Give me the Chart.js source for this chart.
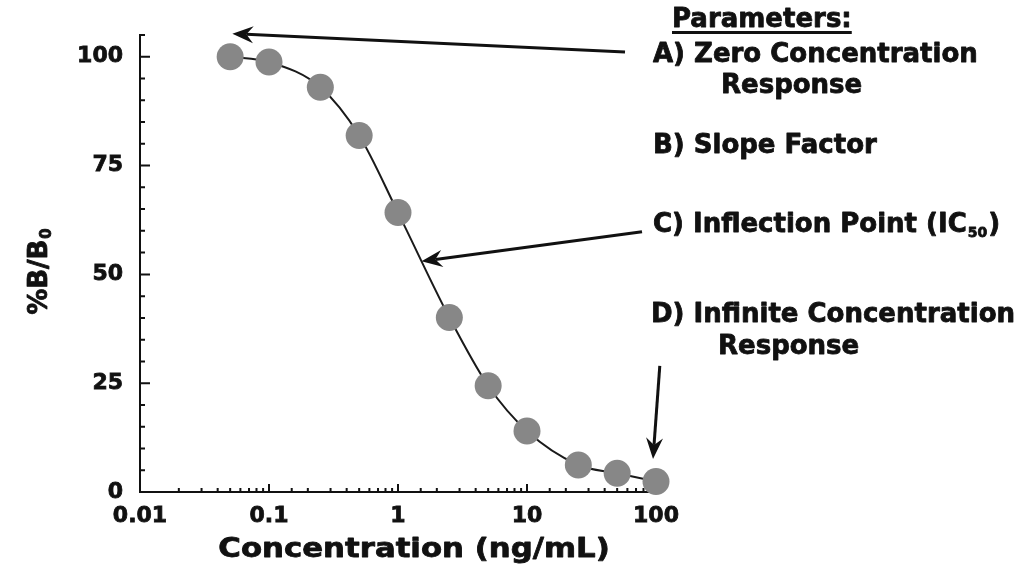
<!DOCTYPE html>
<html>
<head>
<meta charset="utf-8">
<script src="https://cdn.jsdelivr.net/npm/chart.js@4"></script>
<style>
  html, body { margin: 0; padding: 0; background: #fff; }
  #wrap { width: 1023px; height: 576px; position: relative; }
</style>
</head>
<body>
<div id="wrap"><canvas id="curveChart"></canvas></div>
<script>
// 标准曲线数据：浓度 (ng/mL) 与 %B/B0
const concentrations = [0.05, 0.1, 0.25, 0.5, 1, 2.5, 5, 10, 25, 50, 100];
const responses = [100, 98.8, 93, 81.9, 64.2, 40.1, 24.4, 14, 6.2, 4.3, 2.4];

// 刻度标签
const xTickLabels = ["0.01", "0.1", "1", "10", "100"];
const yTickLabels = [0, 25, 50, 75, 100];

const xTitle = "Concentration (ng/mL)";
const yTitle = "%B/B";
const yTitleSub = "0";

const paramHeader = "Parameters:";
const paramTexts = [
  "A) Zero Concentration",
  "Response",
  "B) Slope Factor",
  "C) Inflection Point (IC",
  "D) Infinite Concentration",
  "Response",
];
const ic50Sub = "50";

// 注释：文字位置 (像素) 和箭头 (数据坐标)
const paramLayout = [
  [653, 62], [721, 93], [653, 153], [653, 232], [651, 322], [718, 354],
];
const arrows = [
  { from: [57.5, 101.1], to: [0.052, 105.3] },
  { from: [77.9, 59.8], to: [1.52, 53.0] },
  { from: [107, 29.0], to: [94.8, 7.6] },
];

const FONT = "'DejaVu Sans', 'Liberation Sans', sans-serif";
const INK = "#111";

function isDecade(v) {
  const lg = Math.log10(v);
  return Math.abs(lg - Math.round(lg)) < 1e-9;
}

// 向内的刻度线
const axisTicks = {
  id: "axisTicks",
  beforeDatasetsDraw(chart) {
    const { ctx, scales: { x, y }, chartArea } = chart;
    ctx.save();
    ctx.strokeStyle = INK;
    ctx.lineWidth = 2;
    ctx.beginPath();
    y.ticks.forEach((t) => {
      const py = y.getPixelForValue(t.value);
      const len = t.value % 25 === 0 ? 10 : 5;
      ctx.moveTo(chartArea.left, py);
      ctx.lineTo(chartArea.left + len, py);
    });
    x.ticks.forEach((t) => {
      const px = x.getPixelForValue(t.value);
      const len = isDecade(t.value) ? 8 : 4;
      ctx.moveTo(px, chartArea.bottom);
      ctx.lineTo(px, chartArea.bottom - len);
    });
    ctx.stroke();
    ctx.restore();
  },
};

function drawArrow(ctx, x1, y1, x2, y2) {
  const ang = Math.atan2(y2 - y1, x2 - x1);
  const cos = Math.cos(ang), sin = Math.sin(ang);
  const headLen = 21, headW = 8.5, notch = 14;
  const nx = x2 - notch * cos, ny = y2 - notch * sin;
  const bx = x2 - headLen * cos, by = y2 - headLen * sin;
  ctx.beginPath();
  ctx.moveTo(x1, y1);
  ctx.lineTo(nx, ny);
  ctx.stroke();
  ctx.beginPath();
  ctx.moveTo(x2, y2);
  ctx.lineTo(bx + headW * sin, by - headW * cos);
  ctx.lineTo(nx, ny);
  ctx.lineTo(bx - headW * sin, by + headW * cos);
  ctx.closePath();
  ctx.fill();
}

function boldText(ctx, txt, px, py) {
  ctx.fillText(txt, px, py);
  ctx.strokeText(txt, px, py);
}

// 文字注释、轴标题和箭头
const annotations = {
  id: "annotations",
  afterDraw(chart) {
    const { ctx, scales: { x, y } } = chart;
    ctx.save();
    ctx.fillStyle = INK;
    ctx.strokeStyle = INK;
    ctx.textBaseline = "alphabetic";
    ctx.lineJoin = "round";

    // 箭头
    ctx.lineWidth = 3;
    arrows.forEach((a) => {
      drawArrow(
        ctx,
        x.getPixelForValue(a.from[0]), y.getPixelForValue(a.from[1]),
        x.getPixelForValue(a.to[0]), y.getPixelForValue(a.to[1])
      );
    });

    // 参数说明
    ctx.lineWidth = 0.8;
    ctx.font = "bold 26px " + FONT;
    ctx.textAlign = "left";
    const hw = ctx.measureText(paramHeader).width;
    boldText(ctx, paramHeader, 672, 27);
    ctx.fillRect(672, 31, hw, 3);

    paramTexts.forEach((txt, i) => {
      const [px, py] = paramLayout[i];
      ctx.font = "bold 26px " + FONT;
      boldText(ctx, txt, px, py);
      if (i === 3) {
        let cx = px + ctx.measureText(txt).width;
        ctx.font = "bold 14px " + FONT;
        boldText(ctx, ic50Sub, cx + 1, py + 5);
        cx += ctx.measureText(ic50Sub).width + 2;
        ctx.font = "bold 26px " + FONT;
        boldText(ctx, ")", cx, py);
      }
    });

    // x 轴标题
    ctx.save();
    ctx.font = "bold 27px " + FONT;
    ctx.textAlign = "center";
    ctx.translate(414, 557);
    ctx.scale(1.14, 1);
    boldText(ctx, xTitle, 0, 0);
    ctx.restore();

    // y 轴标题
    ctx.save();
    ctx.translate(47, 272);
    ctx.rotate(-Math.PI / 2);
    ctx.font = "bold 26px " + FONT;
    const w1 = ctx.measureText(yTitle).width;
    ctx.font = "bold 15px " + FONT;
    const w2 = ctx.measureText(yTitleSub).width;
    const start = -(w1 + w2) / 2;
    ctx.font = "bold 26px " + FONT;
    ctx.textAlign = "left";
    boldText(ctx, yTitle, start, 0);
    ctx.font = "bold 15px " + FONT;
    boldText(ctx, yTitleSub, start + w1 + 1, 4);
    ctx.restore();

    ctx.restore();
  },
};

const tickFont = { family: FONT, size: 22, weight: "bold" };

new Chart(document.getElementById("curveChart").getContext("2d"), {
  type: "line",
  data: {
    datasets: [
      {
        data: concentrations.map((c, i) => ({ x: c, y: responses[i] })),
        borderColor: "#1a1a1a",
        borderWidth: 2,
        cubicInterpolationMode: "monotone",
        pointRadius: 13.5,
        pointHoverRadius: 13.5,
        pointBackgroundColor: "#878787",
        pointBorderWidth: 0,
        fill: false,
        clip: false,
      },
    ],
  },
  options: {
    responsive: true,
    maintainAspectRatio: false,
    animation: false,
    layout: { padding: { left: 0, top: 35, right: 367, bottom: 0 } },
    plugins: { legend: { display: false }, tooltip: { enabled: false } },
    scales: {
      x: {
        type: "logarithmic",
        min: 0.01,
        max: 100,
        grid: { display: false, drawTicks: false },
        border: { display: true, color: INK, width: 2 },
        ticks: {
          autoSkip: false,
          maxRotation: 0,
          padding: 11,
          color: INK,
          textStrokeColor: INK,
          textStrokeWidth: 0.8,
          font: tickFont,
          callback: (v) => (isDecade(v) ? xTickLabels[Math.round(Math.log10(v)) + 2] : ""),
        },
        afterFit: (scale) => { scale.height = 84; },
      },
      y: {
        min: 0,
        max: 105,
        grid: { display: false, drawTicks: false },
        border: { display: true, color: INK, width: 2 },
        ticks: {
          stepSize: 5,
          autoSkip: false,
          padding: 17,
          color: INK,
          textStrokeColor: INK,
          textStrokeWidth: 0.8,
          font: tickFont,
          callback: (v) => (yTickLabels.includes(v) ? String(v) : ""),
        },
        afterFit: (scale) => { scale.width = 140; },
      },
    },
  },
  plugins: [axisTicks, annotations],
});
</script>
</body>
</html>
